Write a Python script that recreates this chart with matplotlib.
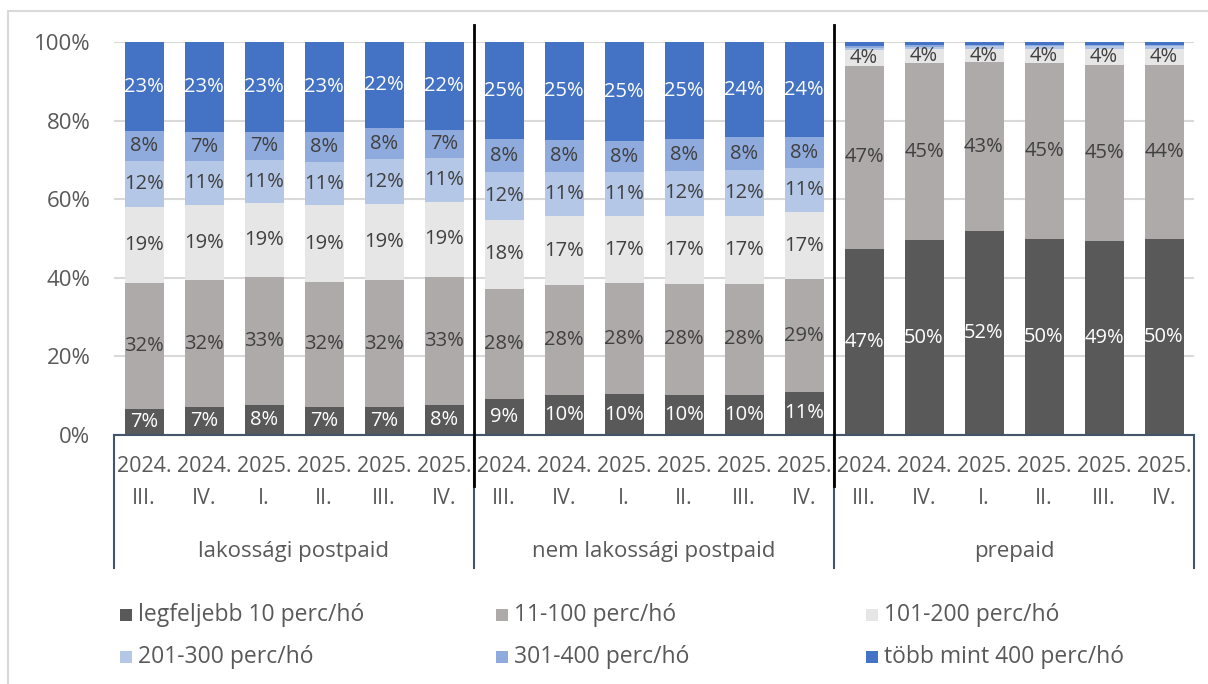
import matplotlib
matplotlib.use("Agg")
import matplotlib.pyplot as plt
from matplotlib.patches import Rectangle
import matplotlib.transforms as mtransforms

plt.rcParams['font.family'] = ['Open Sans', 'DejaVu Sans']

# ---------------- data ----------------
groups = ["lakossági postpaid", "nem lakossági postpaid", "prepaid"]
periods = [("2024.", "III."), ("2024.", "IV."), ("2025.", "I."),
           ("2025.", "II."), ("2025.", "III."), ("2025.", "IV.")]

series_names = ["legfeljebb 10 perc/hó", "11-100 perc/hó", "101-200 perc/hó",
                "201-300 perc/hó", "301-400 perc/hó", "több mint 400 perc/hó"]

# values in % (lakossági x6, nem lakossági x6, prepaid x6)
s_le10 = [6.6, 7.1, 7.6, 7.1, 7.1, 7.7,
          9.2, 10.2, 10.4, 10.3, 10.3, 11.0,
          47.4, 49.6, 51.9, 49.9, 49.4, 49.9]
s_11_100 = [32.2, 32.3, 32.6, 31.9, 32.3, 32.6,
            28.0, 28.0, 28.2, 28.1, 28.1, 28.6,
            46.6, 45.0, 42.9, 44.7, 44.8, 44.3]
s_101_200 = [19.3, 19.1, 18.8, 19.4, 19.3, 19.1,
             17.6, 17.4, 17.2, 17.3, 17.4, 17.2,
             3.9, 3.6, 3.5, 3.7, 4.0, 4.0]
s_201_300 = [11.6, 11.2, 11.0, 11.0, 11.6, 11.0,
             12.0, 11.4, 11.1, 11.6, 11.6, 11.1,
             0.7, 0.6, 0.6, 0.6, 0.7, 0.7]
s_301_400 = [7.6, 7.3, 7.2, 7.6, 7.7, 7.2,
             8.4, 8.0, 7.9, 8.0, 8.3, 7.9,
             0.4, 0.4, 0.4, 0.4, 0.4, 0.4]
s_400p = [22.7, 23.0, 22.8, 23.0, 22.0, 22.4,
          24.8, 25.0, 25.2, 24.7, 24.3, 24.2,
          1.0, 0.8, 0.7, 0.7, 0.7, 0.7]

series = [s_le10, s_11_100, s_101_200, s_201_300, s_301_400, s_400p]
colors = ["#595959", "#AEAAAA", "#E7E6E6", "#B4C7E7", "#8FAADC", "#4472C4"]
label_colors = ["white", "#404040", "#404040", "#404040", "#404040", "white"]

# ---------------- figure ----------------
W, H = 1208, 684
fig = plt.figure(figsize=(W / 100, H / 100), dpi=100)
fig.patch.set_facecolor("white")

x0, x1 = 114, 1194
y0, y1 = 435, 42
ax = fig.add_axes([x0 / W, 1 - y0 / H, (x1 - x0) / W, (y0 - y1) / H])

n = len(s_le10)
xs = list(range(n))
bottoms = [0.0] * n
for vals, col, lc in zip(series, colors, label_colors):
    ax.bar(xs, [v / 100 for v in vals], bottom=[b / 100 for b in bottoms],
           width=0.65, color=col, zorder=2, linewidth=0)
    for i, v in enumerate(vals):
        if v >= 2:
            ax.text(i, (bottoms[i] + v / 2) / 100, f"{round(v)}%",
                    ha="center", va="center", color=lc, fontsize=14.5, zorder=3)
    bottoms = [b + v for b, v in zip(bottoms, vals)]

ax.set_xlim(-0.5, n - 0.5)
ax.set_ylim(0, 1)
ax.set_yticks([0, 0.2, 0.4, 0.6, 0.8, 1.0])
ax.set_yticklabels(["0%", "20%", "40%", "60%", "80%", "100%"])
ax.tick_params(axis="y", length=0, pad=17, labelsize=16, labelcolor="#595959")
ax.tick_params(axis="x", length=0)
ax.set_xticks([])
ax.grid(axis="y", color="#D9D9D9", linewidth=1.5, zorder=0)
ax.set_axisbelow(True)
for sp in ax.spines.values():
    sp.set_visible(False)

# category axis: bottom line + brackets
bracket_col = "#44546A"
trans = mtransforms.blended_transform_factory(ax.transData, ax.transAxes)
ax.plot([-0.5, n - 0.5], [0, 0], color=bracket_col, lw=1.5, transform=trans,
        clip_on=False, zorder=4)
y_br = (y0 - 568) / (y0 - y1)
for xb in [-0.5, 5.5, 11.5, n - 0.5]:
    ax.plot([xb, xb], [0, y_br], color=bracket_col, lw=1.5, transform=trans,
            clip_on=False, zorder=4)

# black group separators
y_top = (y0 - 25) / (y0 - y1)
y_bot = (y0 - 486) / (y0 - y1)
for xb in [5.5, 11.5]:
    ax.plot([xb, xb], [y_bot, y_top], color="black", lw=2, transform=trans,
            clip_on=False, zorder=5)

# period labels
y_p1 = (y0 - 467) / (y0 - y1)
y_p2 = (y0 - 499) / (y0 - y1)
for i in range(n):
    yr, q = periods[i % len(periods)]
    ax.text(i, y_p1, yr, ha="center", va="center", fontsize=15.5,
            color="#595959", transform=trans)
    ax.text(i, y_p2, q, ha="center", va="center", fontsize=15.5,
            color="#595959", transform=trans)

# group labels
y_g = (y0 - 552) / (y0 - y1)
for g, name in enumerate(groups):
    ax.text(g * 6 + 2.5, y_g, name, ha="center", va="center", fontsize=16,
            color="#595959", transform=trans)

# outer chart border (light gray)
fig.patches.append(Rectangle((8 / W, -0.05), 1.2, 1 - 11 / H + 0.05,
                             transform=fig.transFigure, fill=False,
                             edgecolor="#D9D9D9", lw=1.5))

# legend
leg_pos = [(120, 615), (496, 615), (866, 615),
           (120, 657), (496, 657), (866, 657)]
for (lx, ly), name, col in zip(leg_pos, series_names, colors):
    fig.patches.append(Rectangle((lx / W, 1 - (ly + 6) / H), 12 / W, 12 / H,
                                 transform=fig.transFigure, facecolor=col,
                                 edgecolor="none"))
    fig.text((lx + 18) / W, 1 - ly / H, name, ha="left", va="center",
             fontsize=16.5, color="#595959")

fig.savefig("out.png", dpi=100)
